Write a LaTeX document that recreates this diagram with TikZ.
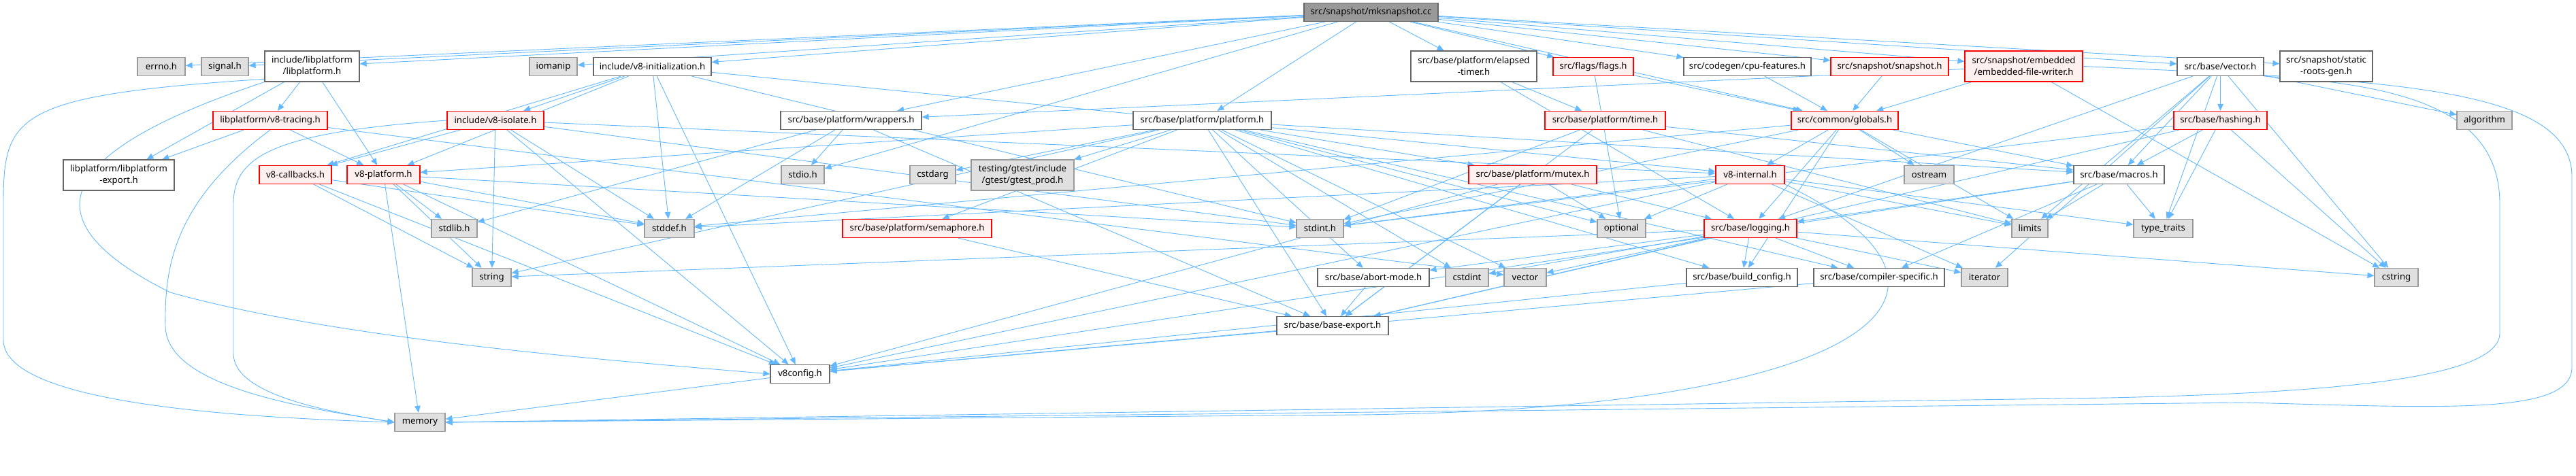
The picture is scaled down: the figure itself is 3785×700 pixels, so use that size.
\documentclass[tikz,border=0pt]{standalone}
\usepackage{fontspec}
\setmainfont{Noto Sans}
\usetikzlibrary{arrows.meta}
\definecolor{edgec}{HTML}{63B8FF}
\definecolor{grayfill}{HTML}{E0E0E0}
\definecolor{graydraw}{HTML}{999999}
\definecolor{whitedraw}{HTML}{666666}
\definecolor{redfill}{HTML}{FFF0F0}
\definecolor{reddraw}{HTML}{FF0000}
\definecolor{rootfill}{HTML}{999999}
\pgfdeclarelayer{edges}
\pgfsetlayers{edges,main}
\tikzset{
  box/.style={draw, rectangle, inner sep=0pt, minimum height=27pt, line width=1.2pt,
    font=\fontsize{13.2}{17}\selectfont, align=center},
  wn/.style={box, fill=white, draw=whitedraw},
  gn/.style={box, fill=grayfill, draw=graydraw},
  rn/.style={box, fill=redfill, draw=reddraw},
  rootn/.style={box, fill=rootfill, draw=whitedraw},
  two/.style={minimum height=45pt},
  ed/.style={draw=edgec, line width=0.9pt, -{Triangle[length=10pt,width=8.5pt]}},
}
\begin{document}
\begin{tikzpicture}[x=1pt,y=-1pt]
\useasboundingbox (0,0) rectangle (3785,700);
% row 0
\node[rootn, minimum width=197pt] (root) at (2014.5,18) {src/snapshot/mksnapshot.cc};
% row 1
\node[gn, minimum width=70pt] (errno) at (237,98) {errno.h};
\node[gn, minimum width=69pt] (signal) at (330.5,98) {signal.h};
\node[wn, two, minimum width=139pt] (libplat) at (458.5,97.5) {include/libplatform\\/libplatform.h};
\node[gn, minimum width=70pt] (iomanip) at (813,98) {iomanip};
\node[wn, minimum width=173pt] (vinit) at (958.5,98) {include/v8-initialization.h};
\node[wn, two, minimum width=185pt] (elapsed) at (2165.5,97.5) {src/base/platform/elapsed\\-timer.h};
\node[rn, minimum width=118pt] (flags) at (2341,98) {src/flags/flags.h};
\node[wn, minimum width=187pt] (cpufeat) at (2567.5,98) {src/codegen/cpu-features.h};
\node[rn, minimum width=173pt] (snapshot) at (2776.5,98) {src/snapshot/snapshot.h};
\node[rn, two, minimum width=173pt] (efw) at (2973.5,97.5) {src/snapshot/embedded\\/embedded-file-writer.h};
\node[wn, minimum width=127pt] (vectorh) at (3262.5,98) {src/base/vector.h};
\node[wn, two, minimum width=136pt] (static) at (3418,97.5) {src/snapshot/static\\-roots-gen.h};
% row 2
\node[rn, minimum width=168pt] (vtracing) at (397,177) {libplatform/v8-tracing.h};
\node[rn, minimum width=142pt] (visolate) at (728,177) {include/v8-isolate.h};
\node[wn, minimum width=207pt] (wrappers) at (1250.5,177) {src/base/platform/wrappers.h};
\node[wn, minimum width=203pt] (platform) at (1766.5,177) {src/base/platform/platform.h};
\node[rn, minimum width=177pt] (timeh) at (2358.5,177) {src/base/platform/time.h};
\node[rn, minimum width=157pt] (globals) at (2710.5,177) {src/common/globals.h};
\node[rn, minimum width=137pt] (hashing) at (3262.5,177) {src/base/hashing.h};
\node[gn, minimum width=81pt] (algorithm) at (3650.5,177) {algorithm};
% row 3
\node[wn, two, minimum width=163pt] (lpexport) at (174.5,257.5) {libplatform/libplatform\\-export.h};
\node[rn, minimum width=106pt] (vcallbacks) at (434,257) {v8-callbacks.h};
\node[rn, minimum width=107pt] (vplatform) at (563.5,257) {v8-platform.h};
\node[gn, minimum width=63pt] (stdio) at (1179.5,257) {stdio.h};
\node[gn, minimum width=67pt] (cstdarg) at (1370.5,257) {cstdarg};
\node[gn, two, minimum width=151pt] (gtest) at (1502.5,257.5) {testing/gtest/include\\/gtest/gtest\_prod.h};
\node[rn, minimum width=188pt] (mutex) at (2252,257) {src/base/platform/mutex.h};
\node[rn, minimum width=101pt] (vinternal) at (2571.5,257) {v8-internal.h};
\node[gn, minimum width=73pt] (ostream) at (2834.5,257) {ostream};
\node[wn, minimum width=133pt] (macros) at (3113.5,257) {src/base/macros.h};
% row 4
\node[gn, minimum width=67pt] (stdlib) at (667.5,336) {stdlib.h};
\node[gn, minimum width=73pt] (stddef) at (983.5,336) {stddef.h};
\node[rn, minimum width=219pt] (semaphore) at (1347.5,336) {src/base/platform/semaphore.h};
\node[gn, minimum width=69pt] (stdint) at (1939.5,336) {stdint.h};
\node[gn, minimum width=71pt] (optional) at (2382.5,336) {optional};
\node[rn, minimum width=136pt] (logging) at (2572,336) {src/base/logging.h};
\node[gn, minimum width=53pt] (limits) at (2982.5,336) {limits};
\node[gn, minimum width=87pt] (typetraits) at (3178.5,336) {type\_traits};
% row 5
\node[gn, minimum width=57pt] (string) at (722.5,408) {string};
\node[wn, minimum width=164pt] (abortmode) at (2018,408) {src/base/abort-mode.h};
\node[gn, minimum width=63pt] (cstdint) at (2155.5,408) {cstdint};
\node[gn, minimum width=62pt] (vector) at (2241,408) {vector};
\node[wn, minimum width=163pt] (buildconfig) at (2559.5,408) {src/base/build\_config.h};
\node[wn, minimum width=192pt] (compspec) at (2761,408) {src/base/compiler-specific.h};
\node[gn, minimum width=68pt] (iterator) at (2916,408) {iterator};
\node[gn, minimum width=64pt] (cstring) at (3521,408) {cstring};
% rows 6-8
\node[wn, minimum width=164pt] (baseexport) at (1958,479) {src/base/base-export.h};
\node[wn, minimum width=87pt] (v8config) at (1175.5,550) {v8config.h};
\node[gn, minimum width=74pt] (memory) at (617,621) {memory};

\begin{pgfonlayer}{edges}
% root
\foreach \t in {errno,signal,libplat,iomanip,vinit,stdio,wrappers,platform,elapsed,flags,cpufeat,globals,snapshot,efw,vectorh,static}
  \draw[ed] (root) -- (\t);
% libplatform
\foreach \t in {lpexport,vtracing,vplatform} \draw[ed] (libplat) -- (\t);
\draw[ed] (libplat.195) .. controls (20,140) and (5,170) .. (5,300) -- (5,500) .. controls (5,600) and (400,615) .. (memory.west);
\draw[ed] (libplat.south west) .. controls (60,230) and (50,330) .. (250,430) .. controls (500,500) and (900,530) .. (v8config.west);
% v8-tracing
\foreach \t in {lpexport,vplatform,vector} \draw[ed] (vtracing) -- (\t);
\draw[ed] (vtracing.south) .. controls (250,300) and (242,400) .. (243,480) .. controls (245,570) and (450,600) .. (memory.west);
% v8-initialization
\foreach \t in {vcallbacks,vplatform,visolate,v8config,stddef,stdint,vinternal} \draw[ed] (vinit) -- (\t);
% v8-isolate
\foreach \t in {vcallbacks,string,v8config,stddef,stdint,vinternal} \draw[ed] (visolate) -- (\t);
\draw[ed] (visolate.west) .. controls (400,195) and (343,230) .. (343,300) -- (343,520) .. controls (343,580) and (480,605) .. (memory.west);
% v8-callbacks, v8-platform
\foreach \t in {stddef,string,v8config} \draw[ed] (vcallbacks) -- (\t);
\foreach \t in {stddef,stdint,stdlib,memory,string,v8config} \draw[ed] (vplatform) -- (\t);
% wrappers
\foreach \t in {stddef,stdio,stdlib,baseexport} \draw[ed] (wrappers) -- (\t);
% platform
\foreach \t in {vplatform,cstdarg,gtest,semaphore,string,cstdint,vector,abortmode,baseexport,buildconfig,compspec,macros,mutex,optional} \draw[ed] (platform) -- (\t);
\draw[ed] (semaphore) -- (baseexport);
\foreach \t in {optional,baseexport,logging,v8config} \draw[ed] (mutex) -- (\t);
\foreach \t in {stdint,baseexport,limits,macros} \draw[ed] (timeh) -- (\t);
\foreach \t in {timeh,logging} \draw[ed] (elapsed) -- (\t);
\foreach \t in {optional,globals} \draw[ed] (flags) -- (\t);
\draw[ed] (cpufeat) -- (globals);
\draw[ed] (snapshot) -- (globals);
% embedded-file-writer
\foreach \t in {globals,wrappers,cstring} \draw[ed] (efw) -- (\t);
\draw[ed] (efw.east) .. controls (3500,118) and (3779,125) .. (3779,260) -- (3779,540) .. controls (3779,610) and (3600,600) .. (3300,592) -- (memory.east);
% vector.h
\foreach \t in {hashing,algorithm,cstring,iterator,limits,typetraits,logging,macros} \draw[ed] (vectorh) -- (\t);
\draw[ed] (vectorh.south east) .. controls (3550,125) and (3673,170) .. (3673,300) -- (3673,490) .. controls (3673,560) and (3400,578) .. (3100,585) -- (memory.east);
% hashing
\foreach \t in {macros,typetraits,cstring,stdint,baseexport} \draw[ed] (hashing) -- (\t);
% globals
\foreach \t in {vinternal,logging,ostream,macros,buildconfig,limits,stddef,stdint} \draw[ed] (globals) -- (\t);
% v8-internal
\foreach \t in {stddef,stdint,iterator,limits,optional,typetraits,v8config} \draw[ed] (vinternal) -- (\t);
\draw[ed] (vinternal.south east) .. controls (2950,430) and (2750,600) .. (2000,610) -- (memory.east);
% macros
\foreach \t in {limits,typetraits,compspec,logging,v8config} \draw[ed] (macros) -- (\t);
% logging
\foreach \t in {buildconfig,compspec,iterator,cstring,string,vector,cstdint,abortmode,baseexport} \draw[ed] (logging) -- (\t);
\draw[ed] (abortmode) -- (baseexport);
\draw[ed] (buildconfig) -- (v8config);
\draw[ed] (compspec) -- (v8config);
\draw[ed] (baseexport) -- (v8config);
\draw[ed] (v8config) -- (memory);
\end{pgfonlayer}
\end{tikzpicture}
\end{document}
